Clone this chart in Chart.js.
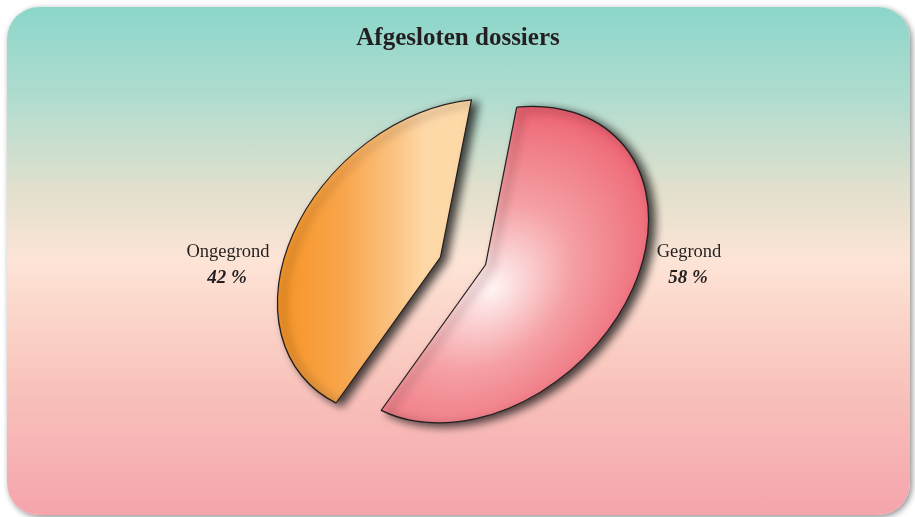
<!DOCTYPE html>
<html>
<head>
<meta charset="utf-8">
<script src="https://cdn.jsdelivr.net/npm/chart.js@4/dist/chart.umd.min.js"></script>
<style>
  body { margin: 0; background: #fff; }
  #wrap { position: relative; width: 915px; height: 517px; overflow: hidden; }
  #panel {
    position: absolute; left: 7px; top: 7px; width: 903px; height: 508px;
    border-radius: 32px;
    background: linear-gradient(to bottom, #8cd6ca 0%, #b0dccf 18%, #e2e0cd 36%, #fde4d6 50%, #f9c6bd 72%, #f5a4ac 100%);
    box-shadow: 2px 2px 6px rgba(0,0,0,0.45);
  }
  #c { position: absolute; left: 0; top: 0; }
</style>
</head>
<body>
<div id="wrap">
  <div id="panel"></div>
  <canvas id="c" width="915" height="517"></canvas>
</div>
<script>
const chartTitle = 'Afgesloten dossiers';
const categories = ['Gegrond', 'Ongegrond'];
const percentages = [58, 42];

const serif = '"Liberation Serif", "DejaVu Serif", serif';
const explode = 25; // px each slice is pulled out

// slice fills: red radial, orange horizontal
function sliceFill(context) {
  const chart = context.chart;
  const area = chart.chartArea;
  if (!area) return '#ccc';
  const ctx = chart.ctx;
  const cx = (area.left + area.right) / 2;
  const cy = (area.top + area.bottom) / 2;
  if (context.dataIndex === 0) {
    const g = ctx.createRadialGradient(cx + 8, cy + 28, 0, cx - 10, cy + 20, 215);
    g.addColorStop(0, '#fff3f3');
    g.addColorStop(0.4, '#f5a0a4');
    g.addColorStop(0.75, '#ef7480');
    g.addColorStop(1, '#e9455b');
    return g;
  }
  const g = ctx.createLinearGradient(cx - 180, 0, cx - 15, 0);
  g.addColorStop(0, '#f6901c');
  g.addColorStop(0.5, '#f8a54c');
  g.addColorStop(0.8, '#fbc27f');
  g.addColorStop(1, '#fed9a8');
  return g;
}

// tilt the pie into an ellipse, pull the slices apart, add the drop shadow
const tiltPlugin = {
  id: 'tilt',
  beforeDatasetsDraw(chart) {
    const ctx = chart.ctx;
    const a = chart.chartArea;
    const cx = (a.left + a.right) / 2;
    const cy = (a.top + a.bottom) / 2;
    ctx.save();
    ctx.translate(cx, cy);
    ctx.transform(1.0, -0.28, 0, 0.93, 0, 0);
    ctx.translate(-cx, -cy);
    ctx.shadowColor = 'rgba(20,20,20,0.8)';
    ctx.shadowBlur = 9;
    ctx.shadowOffsetX = 6;
    ctx.shadowOffsetY = 3;
    chart.getDatasetMeta(0).data.forEach(arc => {
      const mid = (arc.startAngle + arc.endAngle) / 2;
      ctx.save();
      ctx.translate(Math.cos(mid) * explode, Math.sin(mid) * explode);
      arc.draw(ctx);
      ctx.restore();
    });
    ctx.restore();
    return false;
  }
};

const textPlugin = {
  id: 'texts',
  afterDraw(chart) {
    const ctx = chart.ctx;
    ctx.save();
    ctx.fillStyle = '#231f20';
    ctx.textAlign = 'center';
    ctx.textBaseline = 'middle';
    ctx.font = 'bold 25px ' + serif;
    ctx.fillText(chartTitle, 458, 39);

    const meta = chart.getDatasetMeta(0);
    meta.data.forEach((arc, i) => {
      const p = arc.getProps(['x', 'y', 'startAngle', 'endAngle', 'outerRadius'], true);
      const mid = (p.startAngle + p.endAngle) / 2;
      const side = Math.cos(mid) >= 0 ? 1 : -1;
      const lx = p.x + side * (p.outerRadius + (side > 0 ? 63 : 72));
      ctx.font = '18.5px ' + serif;
      ctx.fillText(categories[i], lx, p.y - 9);
      ctx.font = 'italic bold 19px ' + serif;
      ctx.fillText(percentages[i] + ' %', lx - 1, p.y + 17);
    });
    ctx.restore();
  }
};

new Chart(document.getElementById('c'), {
  type: 'pie',
  data: {
    labels: categories,
    datasets: [{
      data: percentages,
      backgroundColor: sliceFill,
      borderColor: '#231f20',
      borderWidth: 1.3
    }]
  },
  options: {
    responsive: false,
    animation: false,
    rotation: 11,
    radius: 163,
    layout: { padding: { left: 290, right: 279, top: 92, bottom: 87 } },
    plugins: {
      legend: { display: false },
      tooltip: { enabled: false },
      title: { display: false }
    }
  },
  plugins: [tiltPlugin, textPlugin]
});
</script>
</body>
</html>
